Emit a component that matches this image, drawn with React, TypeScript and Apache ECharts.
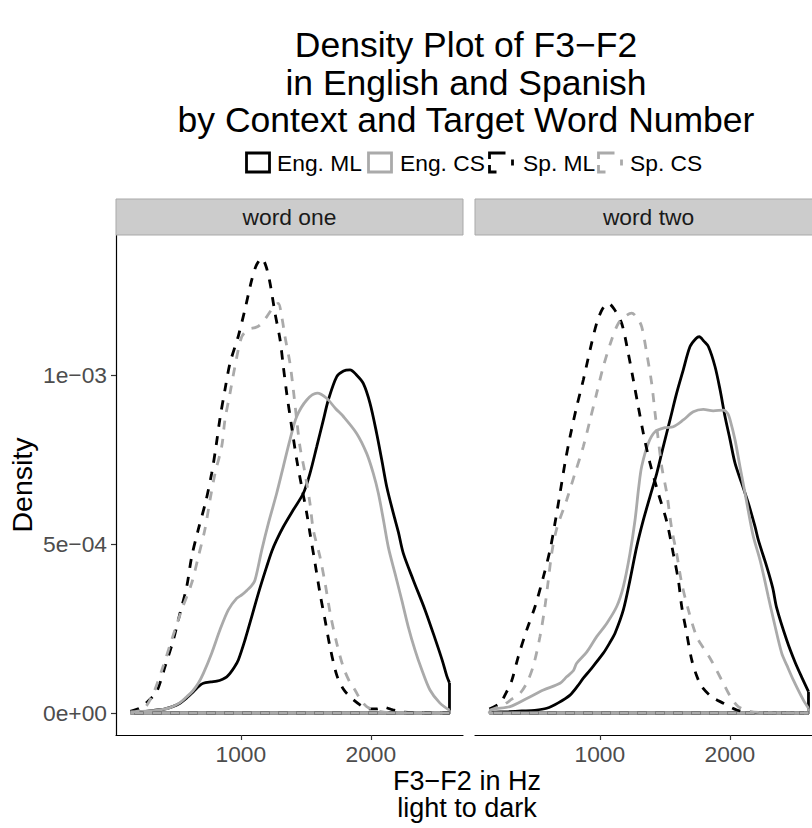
import React, { useEffect, useRef } from "react";
import * as echarts from "echarts";

const FONT = '"Liberation Sans", Arial, Helvetica, sans-serif';

// ---------- data ----------
const panels = ["word one", "word two"];
const groups = ["Eng. ML", "Eng. CS", "Sp. ML", "Sp. CS"];
const groupColors = ["#000000", "#aaaaaa", "#000000", "#aaaaaa"];
const groupDashed = [false, false, true, true];

const titleLines = ["Density Plot of F3\u2212F2", "in English and Spanish", "by Context and Target Word Number"];
const xTitleLines = ["F3\u2212F2 in Hz", "light to dark"];
const yTitle = "Density";

const xTickValues = [1000, 2000];
const xTickLabels = ["1000", "2000"];
// density expressed in units of 1e-3
const yTickValues = [0, 0.5, 1.0];
const yTickLabels = ["0e+00", "5e\u221204", "1e\u221203"];

// [F3-F2 (Hz), density x 1e-3]
const w1EngML = [[150,0.002],[250,0.004],[330,0.008],[404,0.011],[470,0.018],[532,0.029],[585,0.045],[635,0.063],[680,0.08],[712,0.088],[770,0.092],[815,0.094],[860,0.1],[892,0.107],[917,0.117],[950,0.135],[981,0.157],[1032,0.216],[1084,0.285],[1135,0.354],[1199,0.433],[1240,0.48],[1276,0.512],[1327,0.551],[1404,0.601],[1481,0.65],[1532,0.709],[1584,0.788],[1635,0.867],[1673,0.926],[1738,0.995],[1790,1.012],[1840,1.015],[1890,1.0],[1942,0.975],[1994,0.916],[2045,0.827],[2084,0.749],[2122,0.67],[2173,0.591],[2212,0.535],[2250,0.472],[2327,0.393],[2417,0.305],[2494,0.22],[2550,0.155],[2584,0.11],[2605,0.089]];
const w1EngCS = [[150,0.002],[300,0.006],[400,0.011],[455,0.016],[530,0.03],[584,0.048],[630,0.065],[673,0.088],[712,0.117],[776,0.177],[840,0.246],[904,0.305],[968,0.339],[1010,0.35],[1045,0.362],[1080,0.375],[1109,0.393],[1161,0.482],[1212,0.561],[1276,0.65],[1327,0.729],[1378,0.808],[1430,0.877],[1507,0.926],[1588,0.946],[1660,0.931],[1730,0.9],[1789,0.877],[1891,0.827],[1968,0.768],[2019,0.709],[2058,0.65],[2097,0.571],[2135,0.49],[2186,0.413],[2238,0.334],[2288,0.255],[2340,0.186],[2390,0.13],[2455,0.068],[2530,0.03],[2605,0.008]];
const w1SpML = [[150,0.005],[225,0.015],[300,0.04],[353,0.063],[417,0.137],[481,0.216],[532,0.295],[584,0.374],[622,0.462],[673,0.543],[730,0.625],[776,0.709],[809,0.788],[840,0.872],[878,0.956],[917,1.035],[981,1.115],[1032,1.194],[1084,1.281],[1120,1.325],[1161,1.345],[1195,1.32],[1225,1.271],[1263,1.183],[1302,1.104],[1327,1.025],[1353,0.946],[1391,0.847],[1430,0.749],[1468,0.67],[1507,0.591],[1532,0.532],[1571,0.443],[1609,0.354],[1648,0.275],[1686,0.196],[1738,0.112],[1790,0.07],[1840,0.048],[1917,0.024],[1980,0.012],[2045,0.012],[2100,0.017],[2170,0.009],[2250,0.003],[2350,0.001],[2605,0]];
const w1SpCS = [[150,0.003],[250,0.011],[327,0.058],[404,0.14],[468,0.216],[545,0.305],[622,0.384],[673,0.462],[725,0.545],[763,0.63],[802,0.709],[853,0.788],[878,0.867],[917,0.946],[955,1.025],[1007,1.113],[1060,1.135],[1110,1.14],[1148,1.148],[1199,1.172],[1250,1.2],[1288,1.212],[1315,1.172],[1340,1.113],[1378,1.035],[1404,0.956],[1430,0.867],[1455,0.788],[1494,0.709],[1532,0.62],[1558,0.541],[1609,0.462],[1650,0.38],[1690,0.29],[1738,0.206],[1789,0.135],[1840,0.09],[1878,0.068],[1920,0.04],[1968,0.019],[2050,0.006],[2150,0.001],[2605,0]];

const w2EngML = [[150,0.002],[300,0.004],[400,0.006],[500,0.008],[592,0.014],[680,0.03],[771,0.053],[830,0.08],[873,0.103],[925,0.127],[1027,0.177],[1080,0.21],[1117,0.236],[1181,0.305],[1232,0.393],[1284,0.492],[1335,0.571],[1386,0.64],[1438,0.709],[1488,0.788],[1540,0.867],[1591,0.946],[1642,1.015],[1694,1.084],[1740,1.108],[1765,1.113],[1800,1.1],[1835,1.084],[1886,1.025],[1925,0.956],[1963,0.877],[2002,0.808],[2040,0.739],[2091,0.68],[2143,0.62],[2194,0.551],[2219,0.512],[2284,0.433],[2330,0.37],[2361,0.31],[2438,0.215],[2502,0.15],[2560,0.1],[2605,0.063]];
const w2EngCS = [[150,0.005],[181,0.011],[309,0.019],[438,0.043],[566,0.068],[694,0.088],[745,0.107],[796,0.125],[822,0.147],[899,0.18],[976,0.226],[1053,0.265],[1130,0.315],[1181,0.374],[1232,0.472],[1271,0.571],[1300,0.67],[1322,0.729],[1373,0.798],[1425,0.832],[1502,0.844],[1565,0.847],[1642,0.867],[1719,0.891],[1796,0.898],[1873,0.894],[1950,0.896],[1985,0.885],[2002,0.867],[2040,0.808],[2078,0.729],[2117,0.65],[2155,0.571],[2181,0.522],[2232,0.453],[2270,0.39],[2296,0.344],[2340,0.27],[2399,0.177],[2440,0.14],[2488,0.098],[2566,0.038],[2605,0.014]];
const w2SpML = [[150,0.012],[232,0.029],[280,0.06],[322,0.095],[373,0.167],[438,0.246],[502,0.315],[566,0.403],[617,0.482],[655,0.561],[694,0.65],[732,0.739],[771,0.817],[822,0.906],[873,0.985],[925,1.074],[976,1.153],[1020,1.195],[1065,1.212],[1110,1.195],[1168,1.153],[1219,1.064],[1258,0.985],[1296,0.906],[1335,0.827],[1386,0.739],[1450,0.65],[1515,0.566],[1565,0.472],[1604,0.393],[1630,0.315],[1668,0.236],[1707,0.157],[1745,0.11],[1784,0.078],[1860,0.048],[1950,0.029],[2053,0.009],[2150,0.002],[2605,0]];
const w2SpCS = [[150,0.008],[258,0.024],[320,0.04],[386,0.058],[440,0.09],[489,0.14],[540,0.226],[578,0.315],[604,0.393],[630,0.472],[668,0.545],[745,0.63],[809,0.709],[873,0.788],[925,0.867],[976,0.946],[1027,1.025],[1091,1.104],[1143,1.153],[1200,1.175],[1245,1.183],[1285,1.17],[1322,1.143],[1361,1.064],[1399,0.975],[1425,0.887],[1450,0.808],[1476,0.729],[1515,0.65],[1553,0.545],[1591,0.472],[1630,0.384],[1681,0.305],[1745,0.226],[1800,0.19],[1848,0.162],[1900,0.125],[1950,0.088],[2010,0.045],[2065,0.019],[2150,0.005],[2250,0.001],[2605,0]];

const panelData = [
  [w1EngML, w1EngCS, w1SpML, w1SpCS],
  [w2EngML, w2EngCS, w2SpML, w2SpCS],
];

// ---------- layout ----------
const X_MIN = 40;
const X_MAX = 2709;
const Y_MIN = -0.0651;
const Y_MAX = 1.414;
const GRID_LEFTS = [116, 475];
const GRID_TOP = 235;
const GRID_W = 347;
const GRID_H = 500;
const LINE_W = 2.8;
const DASH = [9, 9];

function tickLabel(values: number[], labels: string[], v: number) {
  for (let i = 0; i < values.length; i++) {
    if (Math.abs(values[i] - v) < 1e-9) return labels[i];
  }
  return "";
}

function buildOption() {
  const grid = GRID_LEFTS.map((left) => ({
    left,
    top: GRID_TOP,
    width: GRID_W,
    height: GRID_H,
    containLabel: false,
    outerBoundsMode: "none",
  }));

  const xAxis = GRID_LEFTS.map((_, i) => ({
    type: "value",
    gridIndex: i,
    min: X_MIN,
    max: X_MAX,
    splitLine: { show: false },
    axisLine: { show: true, onZero: false, lineStyle: { color: "#000", width: 1.2 } },
    axisTick: { show: true, length: 5, customValues: xTickValues, lineStyle: { color: "#333", width: 1.2 } },
    axisLabel: {
      show: true,
      customValues: xTickValues,
      formatter: (v: number) => tickLabel(xTickValues, xTickLabels, v),
      fontSize: 22.8,
      fontFamily: FONT,
      color: "#4d4d4d",
      margin: 7,
    },
  }));

  const yAxis = GRID_LEFTS.map((_, i) => ({
    type: "value",
    gridIndex: i,
    min: Y_MIN,
    max: Y_MAX,
    splitLine: { show: false },
    axisLine: { show: i === 0, onZero: false, lineStyle: { color: "#000", width: 1.2 } },
    axisTick: { show: i === 0, length: 5, customValues: yTickValues, lineStyle: { color: "#333", width: 1.2 } },
    axisLabel: {
      show: i === 0,
      customValues: yTickValues,
      formatter: (v: number) => tickLabel(yTickValues, yTickLabels, v),
      fontSize: 22.8,
      fontFamily: FONT,
      color: "#4d4d4d",
      margin: 9,
    },
  }));

  const series: any[] = [];
  panelData.forEach((curves, p) => {
    curves.forEach((pts, g) => {
      const lineStyle = {
        color: groupColors[g],
        width: LINE_W,
        type: groupDashed[g] ? DASH : "solid",
        cap: "butt",
      };
      series.push({
        name: groups[g],
        type: "line",
        xAxisIndex: p,
        yAxisIndex: p,
        data: pts,
        symbol: "none",
        smooth: 0.3,
        lineStyle,
        z: 2 + g,
        silent: true,
      });
      const first = pts[0];
      const last = pts[pts.length - 1];
      series.push({
        name: groups[g],
        type: "line",
        xAxisIndex: p,
        yAxisIndex: p,
        data: [
          [last[0], last[1]],
          [last[0], 0],
          [first[0], 0],
          [first[0], first[1]],
        ],
        symbol: "none",
        smooth: false,
        lineStyle,
        z: 2 + g,
        silent: true,
      });
    });
  });

  const elements: any[] = [];
  // title lines
  const TITLE_FS = 35.5;
  titleLines.forEach((t, i) => {
    elements.push({
      type: "text",
      x: 466,
      y: 45 + i * 37.5,
      style: { text: t, fontSize: TITLE_FS, fontFamily: FONT, fill: "#000", align: "center", verticalAlign: "middle" },
    });
  });

  // strips
  GRID_LEFTS.forEach((left, i) => {
    elements.push({
      type: "rect",
      shape: { x: left, y: 199, width: GRID_W, height: 36 },
      style: { fill: "#cccccc", stroke: "#a9a9a9", lineWidth: 1 },
      z: 10,
    });
    elements.push({
      type: "text",
      x: left + GRID_W / 2,
      y: 217,
      style: {
        text: panels[i],
        fontSize: 22.8,
        fontFamily: FONT,
        fill: "#1a1a1a",
        align: "center",
        verticalAlign: "middle",
      },
      z: 11,
    });
  });

  // legend
  const keyX = [246.5, 368.5, 489.5, 598.5];
  const textX = [277, 400, 523, 630];
  const keyY = 153;
  const keyW = 23;
  const keyH = 19;
  groups.forEach((name, g) => {
    const x0 = keyX[g];
    const stroke = groupColors[g];
    if (!groupDashed[g]) {
      elements.push({
        type: "rect",
        shape: { x: x0, y: keyY, width: keyW, height: keyH },
        style: { fill: "none", stroke, lineWidth: LINE_W },
      });
    } else {
      const segs = [
        [[x0, keyY + 6], [x0, keyY], [x0 + 16, keyY]],
        [[x0, keyY + 12], [x0, keyY + keyH], [x0 + 7, keyY + keyH]],
        [[x0 + keyW, keyY + 6.5], [x0 + keyW, keyY + 12.5]],
      ];
      segs.forEach((pts) =>
        elements.push({
          type: "polyline",
          shape: { points: pts },
          style: { fill: "none", stroke, lineWidth: LINE_W },
        })
      );
    }
    elements.push({
      type: "text",
      x: textX[g],
      y: 162.5,
      style: {
        text: name,
        fontSize: 22.8,
        fontFamily: FONT,
        fill: "#000",
        align: "left",
        verticalAlign: "middle",
      },
    });
  });

  // axis titles
  xTitleLines.forEach((t, i) => {
    elements.push({
      type: "text",
      x: 467,
      y: 781 + i * 27,
      style: { text: t, fontSize: 27, fontFamily: FONT, fill: "#000", align: "center", verticalAlign: "middle" },
    });
  });
  elements.push({
    type: "text",
    x: 22,
    y: 485,
    rotation: Math.PI / 2,
    style: { text: yTitle, fontSize: 28.5, fontFamily: FONT, fill: "#000", align: "center", verticalAlign: "middle" },
  });

  return {
    animation: false,
    backgroundColor: "#ffffff",
    grid,
    xAxis,
    yAxis,
    series,
    graphic: { elements },
  };
}

export default function App() {
  const ref = useRef<HTMLDivElement>(null);
  useEffect(() => {
    if (!ref.current) return;
    const chart = echarts.init(ref.current, undefined, { renderer: "svg" });
    chart.setOption(buildOption() as any);
    return () => chart.dispose();
  }, []);
  return (
    <div
      ref={ref}
      style={{ position: "absolute", left: 0, top: 0, width: 812, height: 828, background: "#fff" }}
    />
  );
}
